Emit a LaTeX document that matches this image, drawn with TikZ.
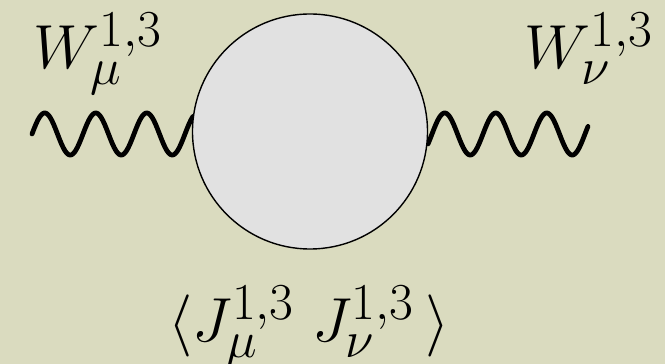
\documentclass[tikz,border=0pt]{standalone}
\usepackage{tikz}
\definecolor{PaperTan}{HTML}{DADBBF}
\definecolor{BlobGray}{HTML}{E1E1E1}

\begin{document}
\begin{tikzpicture}[
  x=1pt, y=1pt,
  blob/.style={
    circle,
    draw=black,
    line width=1.4pt,
    fill=BlobGray,
    minimum size=235pt,
    inner sep=0pt
  },
  lbl/.style={
    inner sep=0pt,
    anchor=base west,
    font=\Huge,
    scale=2.5
  },
  wave/.style={
    line width=4.8pt,
    line cap=round,
    draw=black
  }
]

% Paper
\fill[PaperTan] (0,0) rectangle (665,364);
\useasboundingbox (0,0) rectangle (665,364);

% Boson legs
\coordinate (wl) at (32,230);
\coordinate (wr) at (432,230);
\draw[wave, shift={(wl)}]
  plot[domain=0:161, samples=160, smooth] (\x, {21*sin(\x/51*360)});
\draw[wave, shift={(wr)}]
  plot[domain=-4:156, samples=160, smooth] (\x, {21*sin(\x/51*360)});

% Loop
\node[blob] (loop) at (310,232.5) {};

% Labels
\node[lbl] (wmu) at (33,295) {$W_\mu^{1,3}$};
\node[lbl] (wnu) at (524,295) {$W_\nu^{1,3}$};
\node[lbl] (corr) at (168,22)
  {$\langle J_\mu^{1,3}\;J_\nu^{1,3}\,\rangle$};

\end{tikzpicture}
\end{document}
